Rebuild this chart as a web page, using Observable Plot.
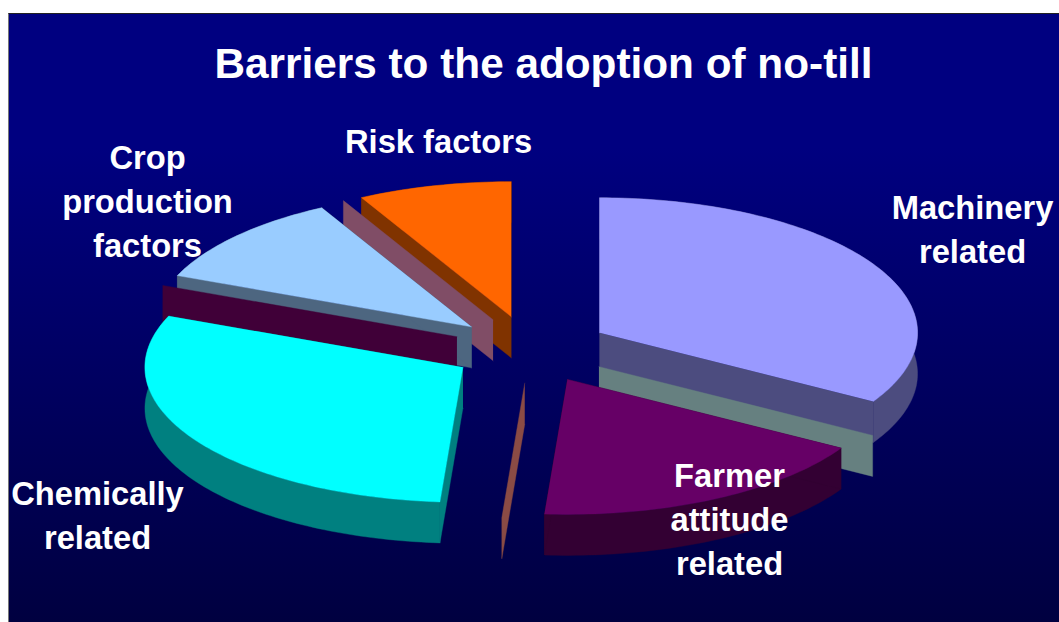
<!DOCTYPE html>
<html>
<head>
<meta charset="utf-8">
<script src="https://cdn.jsdelivr.net/npm/d3@7"></script>
<script src="https://cdn.jsdelivr.net/npm/@observablehq/plot@0.6"></script>
<style>
html,body{margin:0;padding:0;background:#fff;overflow:hidden;width:1059px;height:622px}
#panel{position:absolute;left:8px;top:13px;width:1051px;height:609px;box-sizing:border-box;
border-left:1px solid #777;border-top:1.5px solid #222;
background:linear-gradient(180deg,#000080 0%,#000080 22%,#000040 100%)}
#chart{position:absolute;left:0;top:0}
</style>
</head>
<body>
<div id="panel"></div>
<div id="chart"></div>
<script>
// Pie categories, clockwise from 12 o'clock. Blank names are the empty categories of the original.
const categories = ["Machinery related", "", "Farmer attitude related", "", "Chemically related", "", "Crop production factors", "", "Risk factors"];
const shares     = [33.5, 0, 17.65, 0, 30.05, 0, 11.0, 0, 7.8];
const topColors  = ["#9999FF", "#CCFFFF", "#660066", "#FF8080", "#00FFFF", "#800080", "#99CCFF", "#FF99CC", "#FF6600"];
const sideColors = ["#4C4C7F", "#668080", "#330033", "#8A4B45", "#008080", "#400038", "#4D6680", "#804D66", "#803300"];
const labelLines = ["Machinery\nrelated", "", "Farmer\nattitude\nrelated", "", "Chemically\nrelated", "", "Crop\nproduction\nfactors", "", "Risk factors"];
const title = "Barriers to the adoption of no-till";

// Chart geometry (a tilted unit circle; one x unit is rx pixels, one y unit ry pixels)
const W = 1059, H = 622, cx = 530, cy = 349, rx = 318, ry = 135;
const depth = 41 / ry, explode = 0.25;
const labelCenters = {0: [972, 226.5], 2: [729, 516.5], 4: [97, 512.5], 6: [147, 198.5], 8: [438, 138.5]};
const toX = (px) => (px - cx) / rx;
const toY = (py) => (cy - py) / ry;

const total = d3.sum(shares);
let cum = 0;
const slices = shares.map((v, i) => {
  const a0 = cum / total * 2 * Math.PI;
  cum += v;
  const a1 = cum / total * 2 * Math.PI;
  const am = (a0 + a1) / 2;
  return {i, a0, a1, ax: explode * Math.sin(am), ay: explode * Math.cos(am)};
});
const rim = (s, a, dz = 0) => ({x: s.ax + Math.sin(a), y: s.ay + Math.cos(a) - dz});
const apex = (s, dz = 0) => ({x: s.ax, y: s.ay - dz});
const arc = (s, dz = 0) => {
  const n = Math.max(1, Math.ceil((s.a1 - s.a0) / 0.02));
  return d3.range(n + 1).map(k => rim(s, s.a0 + (s.a1 - s.a0) * k / n, dz));
};
const poly = (points, color) => Plot.line(points, {x: "x", y: "y", fill: color, stroke: color, strokeWidth: 0.4, curve: "linear"});

// paint order, back to front
const order = [8, 7, 6, 5, 0, 1, 2, 3, 4];
const marks = [];
for (const i of order) {
  const s = slices[i], side = sideColors[i];
  if (s.a1 > s.a0) marks.push(poly([...arc(s), ...arc(s, depth).reverse()], side));
  for (const a of (s.a1 > s.a0 ? [s.a0, s.a1] : [s.a0])) {
    marks.push(poly([apex(s), rim(s, a), rim(s, a, depth), apex(s, depth)], side));
  }
  if (s.a1 > s.a0) marks.push(poly([apex(s), ...arc(s)], topColors[i]));
}

const font = {fontFamily: "'Liberation Sans', Arial, sans-serif", fontWeight: 700, fill: "white", textAnchor: "middle", lineAnchor: "middle"};
marks.push(Plot.text(
  Object.keys(labelCenters).map(Number),
  {...font, x: i => toX(labelCenters[i][0]), y: i => toY(labelCenters[i][1]), text: i => labelLines[i], fontSize: 32.7, lineHeight: 1.345}
));
marks.push(Plot.text([title], {...font, x: () => toX(543), y: () => toY(64), text: d => d, fontSize: 42.3}));

const plot = Plot.plot({
  width: W, height: H, margin: 0,
  style: {background: "transparent"},
  x: {type: "linear", domain: [toX(0), toX(W)], range: [0, W], axis: null},
  y: {type: "linear", domain: [toY(H), toY(0)], range: [H, 0], axis: null},
  marks
});
document.getElementById("chart").appendChild(plot);
</script>
</body>
</html>
